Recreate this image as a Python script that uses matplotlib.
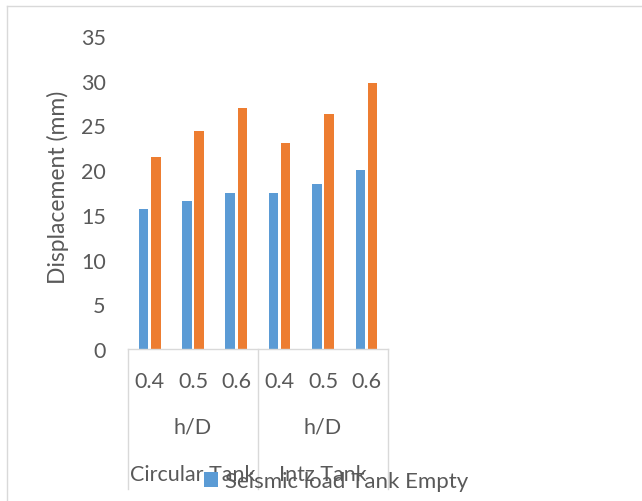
import matplotlib
matplotlib.use("Agg")
import matplotlib.pyplot as plt
from matplotlib.lines import Line2D

# displacement for each h/D ratio, two tank types
ratios = ["0.4", "0.5", "0.6", "0.4", "0.5", "0.6"]
tank_types = ["Circular Tank", "Intz Tank"]
empty_tank = [15.7, 16.6, 17.5, 17.5, 18.5, 20.0]
full_tank = [21.5, 24.4, 27.0, 23.0, 26.3, 29.7]
series_name = "Seismic load Tank Empty"

plt.rcParams["font.family"] = ["Lato", "DejaVu Sans"]
grey_txt = "#595959"
grey_line = "#d9d9d9"

W, H = 642, 502
fig = plt.figure(figsize=(W / 100, H / 100), dpi=100)

# plot area in pixels
left, right, bottom, top = 128, 388, 350, 37
ax = fig.add_axes([left / W, 1 - bottom / H, (right - left) / W, (bottom - top) / H])

x = list(range(len(ratios)))
bw = 0.22
blue = ax.bar([i - 0.14 for i in x], empty_tank, width=bw, color="#5B9BD5", label=series_name)
ax.bar([i + 0.14 for i in x], full_tank, width=bw, color="#ED7D31")

ax.set_xlim(-0.5, len(ratios) - 0.5)
ax.set_ylim(0, 35)
ax.set_yticks(range(0, 36, 5))
ax.tick_params(axis="y", length=0, pad=16, labelsize=15.5, labelcolor=grey_txt)
ax.set_xticks([])
for s in ax.spines.values():
    s.set_visible(False)

fig.text(58 / W, 1 - 187 / H, "Displacement (mm)", rotation=90, ha="center", va="center",
         fontsize=16.5, color=grey_txt)

# multi-level category axis drawn by hand
def px(xp, yp):
    return xp / W, 1 - yp / H

fig.add_artist(Line2D([left / W, right / W], [1 - bottom / H] * 2, color=grey_line, lw=1))
for xs in (left, (left + right) / 2, right):
    fig.add_artist(Line2D([xs / W] * 2, [1 - bottom / H, 1 - 490 / H], color=grey_line, lw=1))

cw = (right - left) / len(ratios)
for i, r in enumerate(ratios):
    fig.text(*px(left + cw * (i + 0.5), 382), r, ha="center", va="center", fontsize=15.5, color=grey_txt)
for j, name in enumerate(tank_types):
    cx = left + (right - left) / 2 * (j + 0.5)
    fig.text(*px(cx, 428), "h/D", ha="center", va="center", fontsize=15.5, color=grey_txt)
    fig.text(*px(cx, 475), name, ha="center", va="center", fontsize=15.5, color=grey_txt)

leg = fig.legend(handles=[blue], labels=[series_name], loc="center left",
                 bbox_to_anchor=px(204, 482), frameon=False, fontsize=16,
                 handlelength=0.65, handleheight=0.65, handletextpad=0.3,
                 borderpad=0, borderaxespad=0)
for t in leg.get_texts():
    t.set_color(grey_txt)

# chart frame edges
fig.add_artist(Line2D([7 / W, 1], [1 - 7 / H] * 2, color=grey_line, lw=1))
fig.add_artist(Line2D([7 / W] * 2, [1 - 7 / H, 0], color=grey_line, lw=1))

fig.savefig("out.png", dpi=100)
